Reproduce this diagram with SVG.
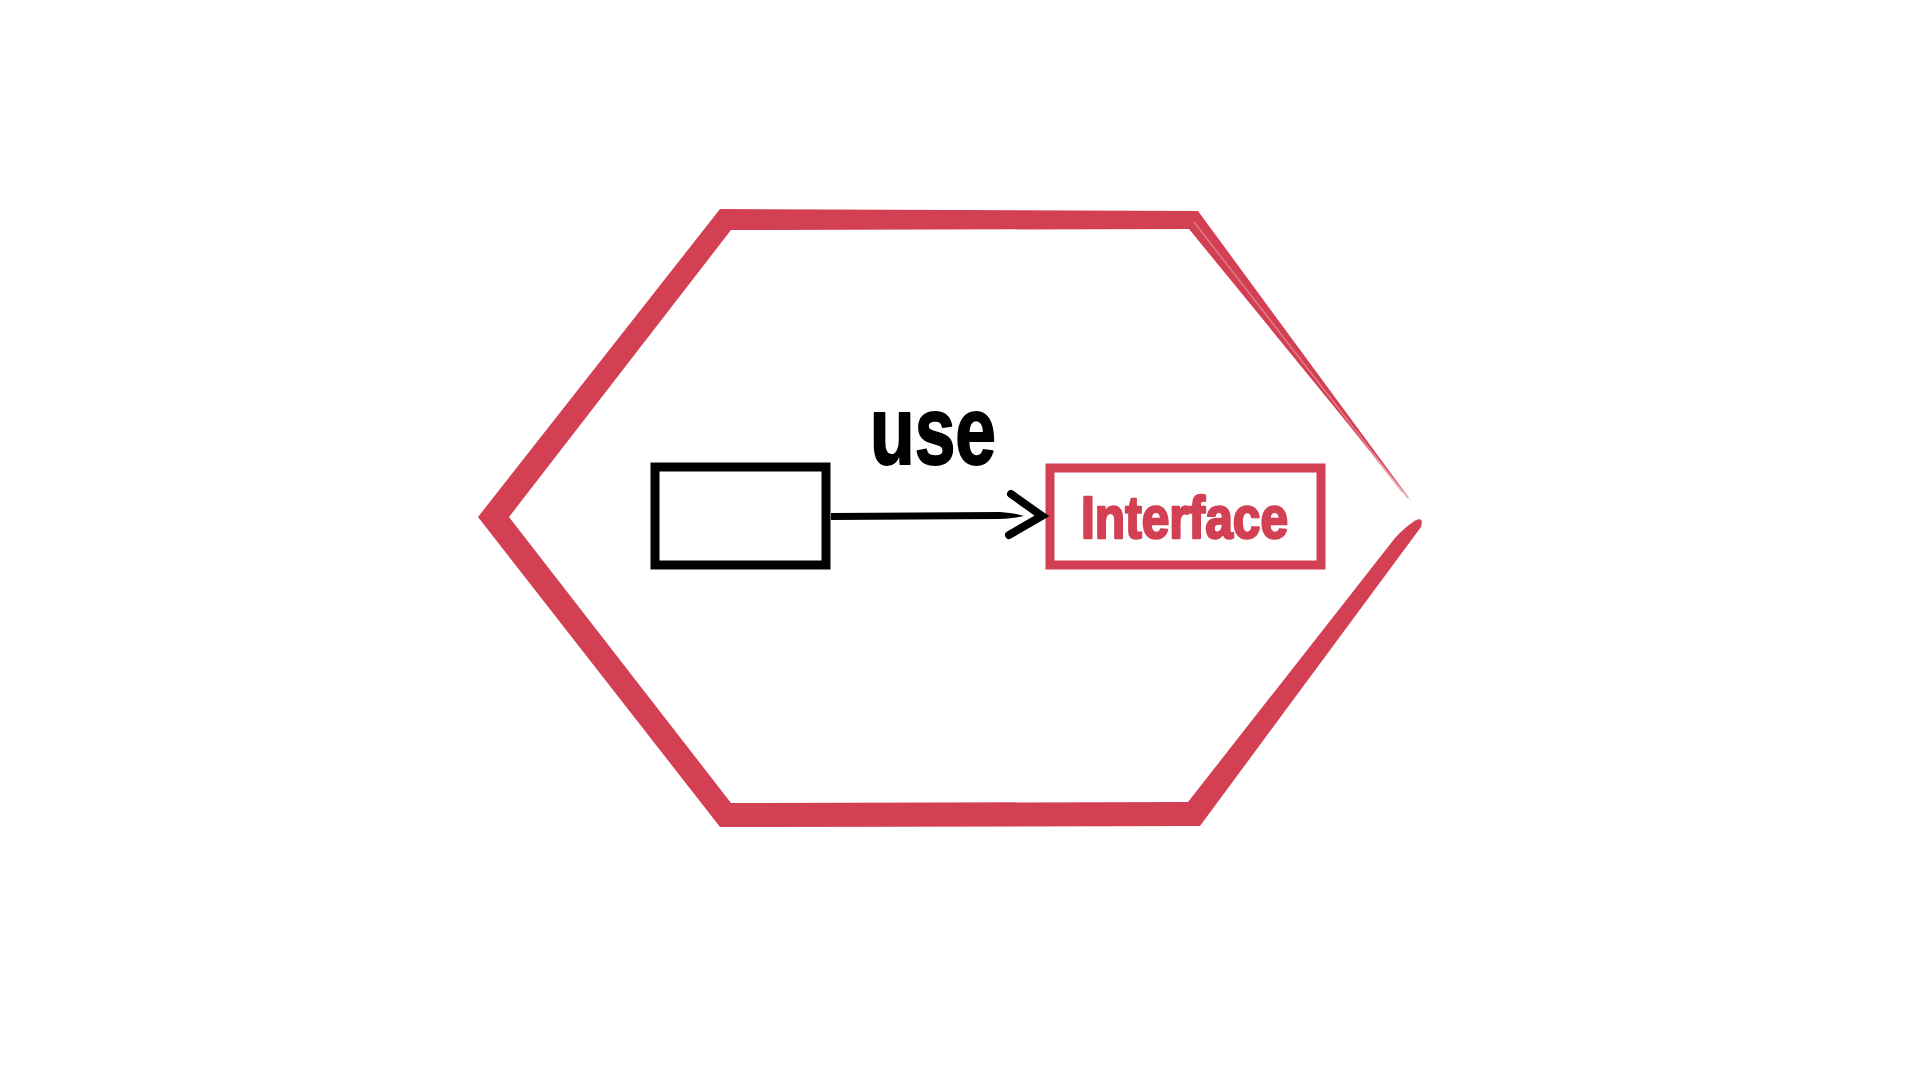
<svg xmlns="http://www.w3.org/2000/svg" width="1920" height="1080" viewBox="0 0 1920 1080">
<style>
.red{fill:#d34053}
.redline{fill:none;stroke:#d34053;stroke-linejoin:miter}
.ink{fill:none;stroke:#000;stroke-linejoin:miter}
.lbl{font-family:"Liberation Sans","DejaVu Sans",sans-serif;font-weight:bold}
</style>
<rect width="1920" height="1080" fill="#fff"/>
<g id="hexagon">
<path class="red" d="M1412,502 L1198,211 L720,209 L478,517 L720,827 L1200,826 L1421,527 Q1424,517 1416,520 Q1405,527 1395,538 L1188,802 L731,803 L509,517 L731,230 L1189,229 Z"/>
<path d="M1194,222 L1408,498" stroke="#e8909b" stroke-width="1.5" fill="none" opacity="0.7"/>
<path d="M1218,258 L1402,492" stroke="#d34053" stroke-width="1" fill="none" opacity="0.5"/>
</g>
<g id="client">
<path class="ink" d="M655,467 L826,467 L826,565 L655,565 Z" stroke-width="9"/>
</g>
<g id="interface">
<path class="redline" d="M1050,468 L1321,468 L1321,565 L1050,565 Z" stroke-width="9"/>
<text class="lbl" x="1081" y="538" font-size="60" fill="#d34053" stroke="#d34053" stroke-width="2.5" stroke-linejoin="round" textLength="207" lengthAdjust="spacingAndGlyphs">Interface</text>
</g>
<g id="connectors">
<path d="M831,513 L1000,512 Q1015,513 1024,516 Q1010,519 1000,519 L831,520 Z" fill="#000"/>
<path class="ink" d="M1011,494 L1042,516 L1009,535" stroke-width="8" stroke-linecap="round"/>
<text class="lbl" x="870" y="464" font-size="96" fill="#000" stroke="#000" stroke-width="2" stroke-linejoin="round" textLength="126" lengthAdjust="spacingAndGlyphs">use</text>
</g>
</svg>
